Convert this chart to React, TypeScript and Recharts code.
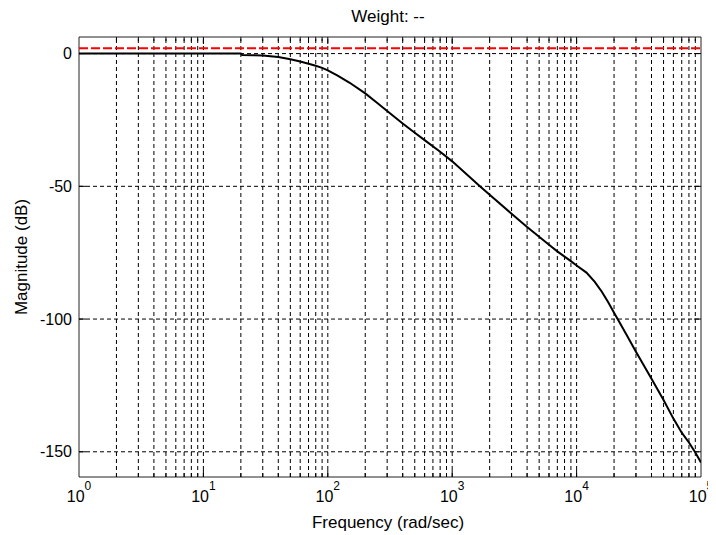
import React from 'react';
import { LineChart, Line, XAxis, YAxis, ReferenceLine, ReferenceArea } from 'recharts';

// ---- data ----
const frequency = [1, 2, 5, 10, 20, 20.5, 25, 30, 40, 50, 60, 70, 80, 90, 100, 120, 150, 200, 250, 300, 400, 500, 600, 800, 1000, 1670, 2000, 3000, 4000, 5000, 6000, 7000, 8000, 9000, 10000, 12000, 14000, 16000, 18000, 20000, 22000, 25000, 30000, 40000, 50000, 60000, 70000, 80000, 90000, 100000];
const magnitude = [0, 0, 0, 0, 0, -0.5, -0.6, -0.75, -1.3, -2.1, -3.0, -3.8, -4.6, -5.4, -6.3, -8.3, -11, -15, -18.6, -21.6, -26.3, -29.8, -32.6, -37, -40.6, -50, -53.2, -60.3, -65.3, -69, -72, -74.5, -76.5, -78.2, -79.8, -82.5, -86, -89.8, -93.8, -97.6, -101, -105.6, -112.3, -122.5, -130.5, -137.5, -142.8, -146.5, -150.3, -154];
const weightLevel = 2;
const freqMajorTicks = [1, 10, 100, 1000, 10000, 100000];
const magTicks = [-150, -100, -50, 0];
const xDomain = [1, 100000];
const yDomain = [-159.5, 6.25];

const title = 'Weight: --';
const xLabel = 'Frequency (rad/sec)';
const yLabel = 'Magnitude (dB)';

// ---- layout ----
const W = 708;
const H = 527;
const margin = { top: 29, right: 15, bottom: 0, left: 0 };
const yAxisWidth = 71;
const xAxisHeight = 58;
const plotW = W - margin.left - margin.right - yAxisWidth;
const plotH = H - margin.top - margin.bottom - xAxisHeight;
const decPerPx = Math.log10(xDomain[1] / xDomain[0]) / plotW;
const dbPerPx = (yDomain[1] - yDomain[0]) / plotH;
const FONT = "'Liberation Sans', Arial, Helvetica, sans-serif";

const data = frequency.map((f, i) => ({ f, mag: magnitude[i] }));

// minor (2..9 x 10^k) positions
const minorFreqs: number[] = [];
for (let k = 0; k < 5; k++) {
  for (let m = 2; m <= 9; m++) minorFreqs.push(m * Math.pow(10, k));
}
const interiorMajor = freqMajorTicks.slice(1, -1);

const MAJOR_PX = 7;
const MINOR_PX = 4;

const XTick = (props: any) => {
  const { x, y, payload } = props;
  const exp = Math.round(Math.log10(payload.value));
  return (
    <text x={x} y={y + 25} textAnchor="middle" fontSize={16} fill="#000" fontFamily={FONT}>
      <tspan>10</tspan>
      <tspan dy={-12} fontSize={12}>{exp}</tspan>
    </text>
  );
};

const XLabel = (props: any) => {
  const vb = props.viewBox || {};
  return (
    <text x={vb.x + vb.width / 2 - 2} y={vb.y + 51} textAnchor="middle" fontSize={17} fill="#000" fontFamily={FONT}>
      {xLabel}
    </text>
  );
};

const YLabel = (props: any) => {
  const vb = props.viewBox || {};
  const cx = 19;
  const cy = vb.y + vb.height / 2;
  return (
    <text x={cx} y={cy} transform={`rotate(-90 ${cx} ${cy})`} textAnchor="middle" fontSize={17} fill="#000" fontFamily={FONT}>
      {yLabel}
    </text>
  );
};

export default function App() {
  const gridDash = '4 3';
  const tickColor = '#000';
  const xTickFactorMajor = Math.pow(10, MAJOR_PX * decPerPx);

  return (
    <div style={{ position: 'relative', width: W, height: H, background: '#fff' }}>
      <LineChart width={W} height={H} data={data} margin={margin}>
        <XAxis
          dataKey="f"
          type="number"
          scale="log"
          domain={xDomain}
          allowDataOverflow
          ticks={freqMajorTicks}
          tick={<XTick />}
          tickLine={false}
          axisLine={false}
          tickSize={0}
          tickMargin={0}
          height={xAxisHeight}
          interval={0}
          label={<XLabel />}
        />
        <YAxis
          type="number"
          domain={yDomain}
          allowDataOverflow
          ticks={magTicks}
          tick={{ fontSize: 16, fill: '#000', fontFamily: FONT }}
          tickLine={false}
          axisLine={false}
          tickSize={0}
          tickMargin={7}
          width={yAxisWidth}
          interval={0}
          label={<YLabel />}
        />

        {/* dashed grid */}
        {[...minorFreqs, ...interiorMajor].map((f) => (
          <ReferenceLine key={`vg${f}`} x={f} stroke="#000" strokeWidth={1} strokeDasharray={gridDash} ifOverflow="visible" />
        ))}
        {magTicks.map((v) => (
          <ReferenceLine key={`hg${v}`} y={v} stroke="#000" strokeWidth={1} strokeDasharray={gridDash} ifOverflow="visible" />
        ))}

        {/* inside tick marks */}
        {interiorMajor.map((f) => (
          <ReferenceLine key={`tt${f}`} segment={[{ x: f, y: yDomain[1] }, { x: f, y: yDomain[1] - MAJOR_PX * dbPerPx }]} stroke={tickColor} ifOverflow="visible" />
        ))}
        {interiorMajor.map((f) => (
          <ReferenceLine key={`tb${f}`} segment={[{ x: f, y: yDomain[0] }, { x: f, y: yDomain[0] + MAJOR_PX * dbPerPx }]} stroke={tickColor} ifOverflow="visible" />
        ))}
        {minorFreqs.map((f) => (
          <ReferenceLine key={`mt${f}`} segment={[{ x: f, y: yDomain[1] }, { x: f, y: yDomain[1] - MINOR_PX * dbPerPx }]} stroke={tickColor} ifOverflow="visible" />
        ))}
        {minorFreqs.map((f) => (
          <ReferenceLine key={`mb${f}`} segment={[{ x: f, y: yDomain[0] }, { x: f, y: yDomain[0] + MINOR_PX * dbPerPx }]} stroke={tickColor} ifOverflow="visible" />
        ))}
        {magTicks.map((v) => (
          <ReferenceLine key={`yl${v}`} segment={[{ x: xDomain[0], y: v }, { x: xDomain[0] * xTickFactorMajor, y: v }]} stroke={tickColor} ifOverflow="visible" />
        ))}
        {magTicks.map((v) => (
          <ReferenceLine key={`yr${v}`} segment={[{ x: xDomain[1] / xTickFactorMajor, y: v }, { x: xDomain[1], y: v }]} stroke={tickColor} ifOverflow="visible" />
        ))}

        <Line
          type="linear"
          dataKey="mag"
          stroke="#000"
          strokeWidth={2}
          dot={false}
          activeDot={false}
          isAnimationActive={false}
        />
        <ReferenceLine y={weightLevel} stroke="#ff0000" strokeWidth={2} strokeDasharray="9 3" ifOverflow="visible" />

        <ReferenceArea
          x1={xDomain[0]}
          x2={xDomain[1]}
          y1={yDomain[0]}
          y2={yDomain[1]}
          fill="none"
          fillOpacity={0}
          stroke="#222"
          strokeWidth={1}
          ifOverflow="visible"
        />
      </LineChart>
      <svg width={W} height={30} style={{ position: 'absolute', left: 0, top: 0, pointerEvents: 'none' }}>
        <text x={380} y={14} textAnchor="middle" fontSize={17} fill="#000" fontFamily={FONT}>
          {title}
        </text>
      </svg>
    </div>
  );
}
